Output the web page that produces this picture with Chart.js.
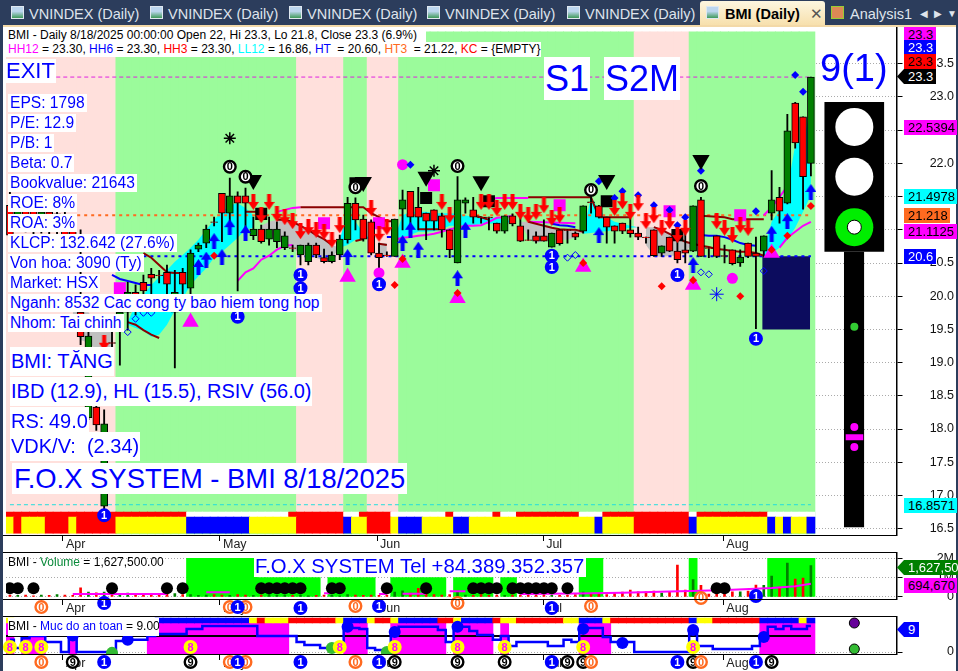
<!DOCTYPE html>
<html>
<head>
<meta charset="utf-8">
<style>
html,body{margin:0;padding:0;width:958px;height:671px;overflow:hidden;background:#2c3d5c;font-family:"Liberation Sans",Arial,sans-serif}
#pane{position:absolute;left:3px;top:25px;width:953px;height:646px;background:#fff;border-top:2px solid #f3d9a8;box-sizing:border-box}
canvas{position:absolute;left:0}
.tab{position:absolute;top:3px;height:21px;line-height:22px;font-size:14.5px;color:#dfe4ec;white-space:nowrap}
.ico{position:absolute;top:6px;width:13px;height:13px;background:linear-gradient(#bcd6ee 40%,#3f9a5a);border:1px solid #dfe8f0;box-sizing:border-box}
.box{position:absolute;background:#fff;color:#00f;white-space:nowrap;box-sizing:border-box}
.row{left:8px;height:18px;line-height:18px;font-size:15.6px;padding:0 2px}
.big{height:29px;line-height:29px;font-size:20px;left:10px;padding:0 1px}
.tag{position:absolute;height:15px;line-height:15px;font-size:13px;color:#000;text-align:left;padding-left:4px;box-sizing:border-box;white-space:nowrap}
.ptr{clip-path:polygon(0 50%,7px 0,100% 0,100% 100%,7px 100%);padding-left:11px}
.hl{position:absolute;left:3px;width:893px;height:1px;background:#000}
.ttl{position:absolute;font-size:12px;line-height:14px;color:#000;white-space:nowrap}
</style>
</head>
<body>
<div id="pane"></div>
<div id="tabs"></div>
<canvas id="priceChart" width="958" height="525" style="top:27px"></canvas>
<canvas id="volumeChart" width="958" height="64" style="top:552px"></canvas>
<canvas id="safetyChart" width="958" height="55" style="top:616px"></canvas>
<div id="overlay"></div>
<script src="https://cdn.jsdelivr.net/npm/chart.js@4/dist/chart.umd.min.js"></script>
<script>
// candles, k = bar number, 0 is the first bar on the left
var opens = [21.37,21.07,21.33,21.30,21.03,21.27,20.98,21.07,21.03,19.76,18.17,18.33,16.84,19.30,19.49,19.76,20.06,20.21,20.33,20.32,20.36,19.76,20.36,20.12,20.71,20.80,21.12,21.55,21.25,21.51,21.51,20.91,21.01,20.86,20.82,20.73,20.73,20.62,20.52,20.77,20.58,20.52,20.62,20.85,21.40,21.16,21.12,20.65,20.62,20.60,21.31,21.58,21.34,21.25,21.30,21.21,21.00,20.50,21.40,21.30,21.19,21.19,21.10,20.98,21.21,21.06,20.85,20.91,20.91,20.74,21.00,21.00,20.95,20.98,21.42,21.36,21.19,21.06,21.10,21.00,20.95,20.89,21.00,20.65,20.89,20.68,20.70,20.68,21.45,20.73,20.91,20.61,20.70,20.50,20.80,20.65,20.68,21.25,21.49,21.40,22.91,22.70,22.00];
var highs = [21.60,21.52,21.45,21.37,21.37,21.37,21.33,21.27,21.22,21.00,19.64,18.44,18.29,19.50,19.94,20.21,20.17,20.32,20.42,20.39,20.47,20.39,20.42,20.70,20.80,21.07,21.19,21.55,21.78,21.57,21.63,21.19,21.07,21.19,21.12,20.97,20.77,20.77,20.80,20.80,20.71,20.67,20.92,21.49,21.48,21.22,21.15,20.80,20.67,21.16,21.60,21.58,21.64,21.25,21.30,21.25,21.00,21.80,21.48,21.49,21.19,21.19,21.10,21.21,21.24,21.24,21.00,20.97,21.15,20.95,21.00,21.00,20.97,21.36,21.49,21.37,21.19,21.06,21.10,21.25,21.04,20.89,21.00,20.76,20.89,21.00,21.15,21.36,21.49,20.73,20.91,20.77,20.70,20.70,20.80,20.89,20.91,21.89,21.64,22.74,22.92,22.70,23.30];
var lows = [20.77,21.00,20.97,20.92,20.95,20.91,20.92,20.77,20.76,19.27,18.14,17.98,16.75,19.20,18.96,19.49,19.72,19.94,19.87,20.20,20.02,18.92,20.02,20.02,20.67,20.73,21.06,20.82,21.12,20.08,21.00,20.85,20.80,20.77,20.73,20.70,20.67,20.47,20.47,20.58,20.50,20.50,20.55,20.80,21.00,20.83,20.62,20.32,20.60,20.60,21.00,20.92,21.00,20.85,21.00,20.89,20.58,20.50,21.25,21.10,21.10,21.00,20.95,20.95,21.06,20.82,20.84,20.80,20.83,20.74,20.77,20.80,20.85,20.95,21.25,21.18,20.80,20.80,20.94,20.89,20.85,20.80,20.60,20.60,20.67,20.50,20.50,20.67,20.60,20.58,20.58,20.50,20.47,20.45,20.58,19.51,20.60,21.15,21.10,21.39,22.23,21.31,21.81];
var closes = [20.92,21.37,21.07,21.00,21.27,21.00,21.24,20.88,20.85,19.39,19.40,18.06,18.08,19.29,19.76,20.06,19.79,20.08,20.27,20.31,20.18,20.06,20.18,20.65,20.77,21.01,21.11,21.25,21.51,21.40,21.40,21.01,20.82,21.01,21.01,20.91,20.72,20.77,20.77,20.62,20.52,20.62,20.86,21.40,21.15,20.86,20.65,20.58,20.61,21.16,21.45,21.19,21.19,21.13,21.13,21.00,20.70,21.45,21.45,21.19,21.18,21.18,20.98,21.21,21.09,20.83,20.84,20.83,20.83,20.95,20.79,20.99,20.89,21.36,21.41,21.19,21.04,20.98,20.98,20.94,20.89,20.88,20.61,20.76,20.68,20.55,20.65,21.36,20.60,20.72,20.60,20.60,20.49,20.59,20.60,20.60,20.91,21.45,21.28,22.49,22.31,21.80,23.30];

var volumes = [0.1,0.08,0.1,0.06,0.1,0.08,0.12,0.1,0.08,0.47,0.25,0.22,0.25,0.12,0.1,0.2,0.15,0.1,0.15,0.08,0.15,0.18,0.12,0.12,0.08,0.1,0.12,0.1,0.08,0.12,0.1,0.08,0.1,0.12,0.08,0.1,0.08,0.1,0.06,0.08,0.1,0.08,0.06,0.12,0.1,0.08,0.1,0.08,0.1,0.25,0.32,0.2,0.45,0.15,0.12,0.1,0.12,0.3,0.1,0.08,0.12,0.08,0.1,0.08,0.1,0.1,0.08,0.1,0.12,0.1,0.08,0.1,0.12,0.25,0.18,0.15,0.12,0.2,0.25,0.36,0.27,0.27,0.31,0.2,0.25,1.66,0.36,0.9,0.6,0.15,0.15,0.18,0.27,0.27,0.3,0.62,0.6,1.09,0.52,1.76,0.93,0.98,1.63];
var safety = [4.2,1.4,4.8,5.5,5.5,3.5,3.5,0,5.5,0,0,0,0,0,3.8,3.8,4.2,4.2,5.5,6.2,6.2,6.2,6.2,8,8,9,9,9,9,9,9,9,5.5,5.5,5.5,5.5,5.5,3.5,2.4,2.4,1.4,1.4,1.4,8.3,8.3,8,1.4,0.7,0,6.6,8.7,8.7,8.7,8.7,8.7,7.6,3.5,8.7,8.7,7.3,5.9,5.9,4.2,5.5,2.1,3.5,3.5,3.5,3.5,2.1,2.1,4.2,3.5,8.3,8.3,8.3,5.2,3.5,3.5,3.5,0,0,0,0,0,0,0,7.6,2.1,2.1,1,1,1,1,1,2.1,5.2,8.7,8,9,8,8,9];

var monthTicks = [6.75,26.75,46.75,67.9,90.85];
var monthLabels = ['Apr','May','Jun','Jul','Aug'];
var priceTicks = [16.5,17,17.5,18,18.5,19,19.5,20,20.5,21,21.5,22,22.5,23,23.5];
var volumeTicks = [0,1,2];
var safetyTicks = [0];

// background colour by bar: start bar of each run and its colour
var zoneStarts = [0,14,37,43,46,50,80,87];
var zoneKinds = ['P','G','P','G','P','G','P','G'];
var stripStarts = [0,23,36,43,45,49,56,57,62,63,65,73,76,87,88,97];
var stripKinds = ['R','W','R','W','R','W','R','W','R','W','R','W','R','W','R','W'];
var bandStarts = [0,1,2,5,8,9,14,23,31,37,43,44,46,49,50,53,57,59,75,76,80,87,88,97,98,99,100,102];
var bandKinds = ['Y','R','Y','R','Y','R','Y','B','Y','R','B','Y','R','Y','B','Y','B','Y','B','Y','R','B','Y','B','Y','B','Y','B'];
var safetyStripStarts = [0,1,19,31,32,33,36,42,43,46,47,49,50,55,57,58,62,63,65,71,73,76,77,87,88,90,96,101,102];
var safetyStripKinds = ['Y','W','B','Y','R','Y','R','Y','B','Y','R','Y','B','R','Y','B','R','Y','R','Y','B','Y','R','B','Y','R','B','Y','B'];

// overlay lines, null breaks the line
var brownAK = [30,31,32,33,37,45,46,47,48,49,50,59,60,61,62,66,74,75,79,80,88,91,92,96];
var brownAV = [21.27,21.27,21.27,null,21.34,21.34,21.25,21.19,21.13,21.13,null,21.22,21.19,21.15,null,21.49,21.49,21.19,21.19,null,21.21,21.19,21.16,21.16];
var brownBK = [15,16,17,18,19,20,17,18,19,20,21,22,23,34,35,36,37,38,39,40,41,42,44,45,46,47,48,49,52,55,56,66,67,68,69,70,71,72,73,74,82,83,84,85,86,87,88,89,90,91,92,93,94,95,96];
var brownBV = [19.61,19.57,19.49,19.42,19.37,null,20.65,20.58,20.47,20.36,20.35,20.35,null,21.15,21.15,21.12,21.06,21.00,20.92,20.86,20.77,null,20.83,20.86,null,20.79,20.77,null,21.01,21.01,null,21.12,21.09,21.06,21.03,21.01,21.00,21.00,20.97,null,21.04,21.00,20.94,20.88,20.82,20.79,20.76,20.74,20.71,20.70,20.68,20.67,20.67,20.65,20.61];
var magentaLowK = [29,30,31,32,33,34,35,36,37,49,50,51,52,53,54,55,56,57,58,59,60,61,62,63,64,65,66,72,73,98,99,100,101,102];
var magentaLowV = [20.23,20.36,20.42,20.55,20.61,20.70,20.76,20.77,null,20.85,20.88,20.89,20.91,20.92,20.94,20.97,21.01,21.03,21.06,21.06,21.07,21.12,21.18,21.19,21.21,null,21.12,21.10,null,20.73,20.88,20.97,21.06,21.12];
var magentaHighK = [34,35,36,37,38,61,62,66,67,96,97,98,99];
var magentaHighV = [21.27,21.30,21.33,21.34,null,21.45,21.48,21.48,null,21.22,21.34,21.49,21.66];
var blueK = [13,14,15,16,17,18,19,48,49,50,69,70,71,72,73,88,89,90,91,92,93,94,95];
var blueV = [20.32,20.26,20.23,20.20,20.17,20.17,null,20.89,20.89,null,21.09,21.07,21.06,21.04,null,20.92,20.91,20.91,20.89,20.85,20.80,20.77,20.76];

// clouds: top and bottom edge
var cyanK = [15,16,17,18,19,20,21,22,23,24,25,26,27,28,29,30,31,32,42,43,44,45,46,47,49,50,51,52,53,54,55,56,57,58,59,60,61,62,63,64,65,73,74,75,76,77,78,79,80,81,96,97,98,99,100,101,102];
var cyanTop = [19.61,19.87,20.02,20.17,20.29,20.39,20.52,20.62,20.73,20.85,21.00,21.15,21.27,21.37,21.40,21.33,21.22,null,20.85,21.27,21.12,20.95,20.85,null,20.88,21.22,21.27,21.27,21.27,21.25,21.25,21.25,21.24,21.22,21.19,21.19,21.18,21.18,21.15,21.13,null,20.95,21.49,21.30,21.19,21.12,21.09,21.06,21.04,null,20.70,21.12,21.30,21.60,22.28,22.35,22.80];
var cyanBottom = [19.57,19.52,19.48,19.39,19.42,19.57,19.79,19.97,20.17,20.30,20.42,20.58,20.67,20.77,20.88,21.00,21.03,null,20.73,20.77,20.85,20.88,20.85,null,20.85,20.88,20.92,20.97,20.97,20.98,21.01,21.06,21.06,21.07,21.07,21.09,21.09,21.10,21.10,21.12,null,20.94,20.95,20.97,20.98,21.00,21.01,21.03,21.04,null,20.61,20.64,20.73,20.85,21.03,21.27,21.52];
var grayK = [8,9,10,11,12,13,14,32,33,34,35,36,37,38,39,40,41,42,43,47,48,49,65,66,67,68,69,70,71,72,73,74,81,82,83,84,85,86,87];
var grayTop = [19.8,19.76,19.76,19.6,19.6,19.5,null,21.06,21.12,21.15,21.15,21.12,21.06,21.00,20.92,20.86,20.77,20.73,null,20.80,20.80,null,21.12,21.12,21.09,21.06,21.03,21.01,21.00,21.00,20.97,null,21.04,21.04,21.00,20.94,20.88,20.82,20.79];
var grayBottom = [19.6,19.34,19.30,19.20,19.15,19.2,null,21.03,20.97,20.85,20.76,20.70,20.67,20.61,20.58,20.53,20.58,20.73,null,20.62,20.61,null,21.12,20.88,20.80,20.83,20.85,20.85,20.85,20.88,20.97,null,20.77,20.61,20.59,20.61,20.61,20.67,20.79];

// signal marks on the price pane
var downArrowK = [12,31,33,32,34,35,36,37,38,39,40,41,42,46,47,48,55,56,60,61,62,63,64,65,66,67,68,69,70,77,78,79,80,81,82,83,84,85,86,90,91,92,93,94];
var downArrowV = [19.30,21.42,21.42,21.22,21.24,21.19,21.13,20.98,21.04,21.00,20.97,20.85,21.07,21.33,20.94,21.04,21.42,21.22,21.42,21.42,21.33,21.42,21.42,21.27,21.22,21.27,21.37,21.18,21.22,21.33,21.43,21.27,21.40,21.13,21.22,21.03,21.13,20.92,21.03,21.13,21.03,20.92,21.07,21.03];
var upArrowK = [24,25,26,27,28,30,43,50,51,52,57,58,75,87,97,99,102];
var upArrowV = [20.44,20.55,20.83,20.59,21.04,20.95,20.59,20.80,21.00,20.70,20.27,21.00,20.92,20.47,20.94,21.13,21.57];
var blackSquareK = [32,44,53,61,76,85];
var blackSquareV = [21.24,21.70,21.48,21.43,21.43,20.92];
var pinkSquareK = [14,40,47,54,70,84,93];
var pinkSquareV = [20.12,21.10,21.10,21.67,21.37,21.28,21.22];
var pinkCircleK = [50,47,85,92];
var pinkCircleV = [21.98,20.35,20.32,20.27];
var pinkTriangleK = [23,43,50,57,73,87,97];
var pinkTriangleV = [19.61,20.29,20.50,19.97,20.44,20.17,20.65];
var redDotK = [26,50,49,57,73,83,87,93,97,99,102];
var redDotV = [20.61,20.56,20.17,20.05,20.50,20.15,20.24,20.00,20.70,20.91,21.36];
var blueDotK = [51,75,77,78,80,82,84,86,85,88,95,100,101];
var blueDotV = [21.98,21.73,21.48,21.58,21.52,21.37,21.30,21.19,21.07,21.89,21.28,23.33,23.08];
var blackTriangleK = [31,45,53,60,76,88];
var blackTriangleV = [21.75,21.72,21.80,21.73,21.75,22.05];
var starK = [28,54];
var starV = [22.38,21.89];
var hollowK = [15,16,17,18,71,72,88,89,96];
var hollowV = [19.46,19.66,19.75,19.75,20.58,20.62,20.36,20.33,20.38];
var snowK = [90];
var snowV = [20.03];
var zeroK = [28,30,44,57,74,88];
var zeroV = [21.95,21.80,21.64,21.96,21.60,21.66];
var oneK = [37,37,47,29,12,69,69,85,95];
var oneV = [20.32,20.12,20.18,19.69,16.70,20.61,20.44,20.32,19.36];

// traffic light drawn in the empty bars on the right
var lightK = [107.53,107.53,107.53];
var lightV = [22.55,21.80,21.04];
var poleDotV = [19.54,18.03,17.73];

// volume pane
var tallBlockK = [23,24,25,26,27,28,29,30,31,73,74,75,87,97,98,99,100,101,102];
var lowBlockK = [32,33,34,35,36,37,38,39,41,42,43,44,45,46,49,50,51,52,53,54,55,57,58,59,60,61,63,64];
var volMaK = [8,20,21,25,28,29,40,41,42,47,48,49,50,53,54,56,58,59,65,72,78,84,88,92,97,100,102];
var volMaV = [0.15,0.15,null,0.24,0.24,null,0.2,0.2,null,0.15,0.15,null,0.17,0.17,null,0.3,0.3,null,0.16,0.18,0.22,0.28,0.33,0.38,0.47,0.56,0.69];
var volDotK = [0,1,3,13,20,22,32,33,34,35,36,37,41,42,48,53,59,60,61,62,64,65,66,67,68,69,71,90,91];
var volOrangeK = [4,28,30,44,57,74,88];
var volOrangeV = [-0.52,-0.52,-0.52,-0.47,-0.31,-0.47,-0.05];
var volBlueK = [12,29,37,47,69,95];
var volBlueV = [-0.31,-0.52,-0.57,-0.47,-0.57,0.05];

// safety pane
var safetyBlockK = [0,2,3,4,8,18,19,20,21,22,23,24,25,26,27,28,29,30,31,32,33,34,35,43,44,45,49,50,51,52,53,54,55,57,58,59,60,61,63,73,74,75,76,96,97,98,99,100,101,102];
var safetyEightK = [0,2,4,23,42,49,57,63,73,87];
var safetyBlueK = [8,15,43,49,57,73,78,87,96];
var safetyBlueV = [5.7,4.2,8.7,6.9,8.7,8,3.1,7.6,5.2];
var safetyGreenK = [13,41,48];
var safetyGreenV = [-0.3,1.4,0];
var nineK = [8,23,49,57,63,71,73,87,97];
var orangeK = [4,28,30,44,74,88];
var blueRowK = [12,29,37,47,69,85,95];

var tabNames = ['VNINDEX (Daily)','VNINDEX (Daily)','VNINDEX (Daily)','VNINDEX (Daily)','VNINDEX (Daily)'];
var tabLefts = [29,168,307,445,585];
var infoRows = ['EPS: 1798','P/E: 12.9','P/B: 1','Beta: 0.7','Bookvalue: 21643','ROE: 8%','ROA: 3%','KLCP: 132.642 (27.6%)','Von hoa: 3090 (Ty)','Market: HSX','Nganh: 8532 Cac cong ty bao hiem tong hop','Nhom: Tai chinh'];

var PRICE_BOTTOM = 16.42, PRICE_TOP = 23.98;
var zoneColors = {P:'#ffe0dc',G:'#9bfb9b'};
var cellColors = {R:'#ff0000',W:'#ffffff',Y:'#ffff00',B:'#0000ff'};
var LAST_BAR = 102;

function pts(ks, vs) {
    return ks.map(function(k, i) { return {x: k, y: vs[i]}; });
}

function runColors(starts, kinds, table) {
    var out = [];
    for (var i = 0; i < starts.length; i++) {
        var end = i + 1 < starts.length ? starts[i + 1] : LAST_BAR + 1;
        for (var k = starts[i]; k < end; k++) out.push(table[kinds[i]]);
    }
    return out;
}

function rangeBars(colors, from, to, thickness) {
    return {
        type: 'bar',
        data: colors.map(function(c, k) { return {x: k, y: [from, to]}; }),
        backgroundColor: colors,
        borderWidth: 0,
        barThickness: thickness || 8.1
    };
}

function line(ks, vs, color, width, dash) {
    return {
        type: 'line',
        data: pts(ks, vs),
        borderColor: color,
        borderWidth: width,
        borderDash: dash || [],
        pointRadius: 0,
        tension: 0
    };
}

function box(k0, k1, top, bottom, color) {
    return {
        type: 'line',
        data: pts([k0, k1], [top, top]),
        borderWidth: 0,
        pointRadius: 0,
        fill: {value: bottom},
        backgroundColor: color
    };
}

function cloud(ks, tops, bottoms, color) {
    var upper = line(ks, tops, color, 0);
    upper.fill = '+1';
    upper.backgroundColor = color;
    return [upper, line(ks, bottoms, color, 0)];
}

function marks(ks, vs, style, color, radius, extra) {
    var d = {
        type: 'line',
        showLine: false,
        data: pts(ks, vs),
        pointStyle: style,
        pointRadius: radius,
        pointBackgroundColor: color,
        pointBorderColor: color,
        pointBorderWidth: 0
    };
    for (var key in (extra || {})) d[key] = extra[key];
    return d;
}

function arrow(color, up) {
    var c = document.createElement('canvas');
    c.width = 11;
    c.height = 16;
    var g = c.getContext('2d');
    g.fillStyle = color;
    if (!up) { g.translate(0, 16); g.scale(1, -1); }
    g.beginPath();
    g.moveTo(5.5, 0);
    g.lineTo(11, 8);
    g.lineTo(7.5, 8);
    g.lineTo(7.5, 16);
    g.lineTo(3.5, 16);
    g.lineTo(3.5, 8);
    g.lineTo(0, 8);
    g.closePath();
    g.fill();
    return c;
}

// circled digits, also used under the panes where the label row is
function digitPlugin(groups) {
    return {
        id: 'digitMarks',
        afterDraw: function(chart) {
            var g = chart.ctx;
            g.save();
            groups.forEach(function(s) {
                s.k.forEach(function(k, i) {
                    var x = chart.scales.x.getPixelForValue(k);
                    var y = chart.scales.y.getPixelForValue(s.v[i]);
                    g.beginPath();
                    g.arc(x, y, 5.8, 0, Math.PI * 2);
                    g.fillStyle = s.fill;
                    g.fill();
                    g.lineWidth = 2.4;
                    g.strokeStyle = s.ring;
                    g.stroke();
                    g.fillStyle = s.color;
                    g.font = 'bold 11px "Liberation Sans"';
                    g.textAlign = 'center';
                    g.textBaseline = 'middle';
                    g.fillText(s.digit, x, y + 0.5);
                });
            });
            g.restore();
        }
    };
}

function same(ks, v) {
    return ks.map(function() { return v; });
}

function noPadding(s) {
    s.paddingLeft = 0;
    s.paddingRight = 0;
    s.paddingTop = 0;
    s.paddingBottom = 0;
}

function xAxis() {
    return {
        type: 'linear',
        offset: false,
        min: -0.5,
        max: 112.9,
        afterBuildTicks: function(s) {
            s.ticks = monthTicks.map(function(v) { return {value: v}; });
        },
        afterFit: function(s) {
            s.height = 17;
            noPadding(s);
        },
        grid: {offset: false, drawOnChartArea: false, tickLength: 6, tickColor: '#000'},
        border: {color: '#000', width: 1},
        ticks: {
            autoSkip: false,
            maxRotation: 0,
            minRotation: 0,
            align: 'start',
            padding: -4,
            labelOffset: 3,
            color: '#222',
            font: {family: 'Liberation Sans', size: 12.5},
            callback: function(v, i) { return monthLabels[i]; }
        }
    };
}

function yAxis(min, max, values, fmt) {
    return {
        position: 'right',
        min: min,
        max: max,
        afterBuildTicks: function(s) {
            s.ticks = values.map(function(v) { return {value: v}; });
        },
        afterFit: function(s) {
            s.width = 57.5;
            noPadding(s);
        },
        grid: {color: '#aaaaaa', tickColor: '#000', tickLength: 6, tickBorderDash: []},
        border: {color: '#000', width: 1.5, dash: [1, 2]},
        ticks: {
            autoSkip: false,
            crossAlign: 'far',
            padding: 0,
            color: '#111',
            font: {family: 'Liberation Sans', size: 12.5},
            callback: fmt
        }
    };
}

function makeChart(id, datasets, yScale, groups) {
    datasets.forEach(function(d, i) { d.order = 1000 - i; });
    return new Chart(document.getElementById(id), {
        type: 'bar',
        data: {datasets: datasets},
        options: {
            responsive: false,
            animation: false,
            devicePixelRatio: 1,
            layout: {autoPadding: false, padding: {left: 6, right: 4, top: 1, bottom: 0}},
            datasets: {bar: {grouped: false}},
            plugins: {legend: {display: false}, tooltip: {enabled: false}},
            events: [],
            scales: {x: xAxis(), y: yScale}
        },
        plugins: [digitPlugin(groups)]
    });
}

function initPriceChart() {
    var allK = opens.map(function(o, k) { return k; });
    var bodyColors = opens.map(function(o, k) { return closes[k] >= o ? '#008000' : '#ff0000'; });
    var zones = runColors(zoneStarts, zoneKinds, zoneColors);
    var sets = [];
    sets.push(rangeBars(zones, PRICE_BOTTOM, PRICE_TOP));
    sets = sets.concat(cloud(cyanK, cyanTop, cyanBottom, '#00ffff'));
    sets = sets.concat(cloud(grayK, grayTop, grayBottom, '#c0c0c0'));
    sets.push(box(95.8, 101.9, 20.6, 19.5, '#0c0c5e'));
    sets.push(line([5.9, 102], [23.3, 23.3], '#e020e0', 1, [4, 3]));
    sets.push(line([0, 102], [16.86, 16.86], '#22dddd', 1, [4, 3]));
    sets.push(line([5, 102], [21.22, 21.22], '#ff6a20', 2, [3, 4]));
    sets.push(line([17, 102], [20.6, 20.6], '#0000ff', 2, [3, 4]));
    sets.push(line(magentaLowK, magentaLowV, '#ff00ff', 2));
    sets.push(line(magentaHighK, magentaHighV, '#ff00ff', 2));
    sets.push(line(blueK, blueV, '#0000ff', 2));
    sets.push(line(brownAK, brownAV, '#8b0000', 2));
    sets.push(line(brownBK, brownBV, '#8b0000', 2));
    sets.push({
        type: 'bar',
        data: allK.map(function(k) { return {x: k, y: [lows[k], highs[k]]}; }),
        backgroundColor: '#000',
        barThickness: 1.2,
        borderWidth: 0
    });
    sets.push(rangeBars(runColors(stripStarts, stripKinds, cellColors), 16.675, 16.75));
    sets.push(rangeBars(runColors(bandStarts, bandKinds, cellColors), 16.43, 16.675));
    sets.push(marks(blackSquareK, blackSquareV, 'rect', '#000', 8.5));
    sets.push(marks(pinkSquareK, pinkSquareV, 'rect', '#ff00ff', 8.5));
    sets.push({
        type: 'bar',
        data: allK.map(function(k) { return {x: k, y: [opens[k], closes[k]]}; }),
        backgroundColor: bodyColors,
        borderColor: '#000',
        borderWidth: 1,
        borderSkipped: false,
        barThickness: 7
    });
    sets.push(marks(pinkCircleK, pinkCircleV, 'circle', '#ff00ff', 5.5));
    sets.push(marks(pinkTriangleK, pinkTriangleV, 'triangle', '#ff00ff', 9.5));
    sets.push(marks(redDotK, redDotV, 'rectRot', '#ff0000', 4));
    sets.push(marks(blueDotK, blueDotV, 'rectRot', '#0000ff', 4));
    sets.push(marks(blackTriangleK, blackTriangleV, 'triangle', '#000', 10, {pointRotation: 180}));
    sets.push(marks(starK, starV, 'star', '#000', 6, {pointBorderWidth: 1.5}));
    sets.push(marks(hollowK, hollowV, 'rectRot', 'transparent', 3.5, {pointBorderColor: '#0000ff', pointBorderWidth: 1}));
    sets.push(marks(snowK, snowV, 'star', '#0000ff', 7, {pointBorderWidth: 1}));
    sets.push(marks(downArrowK, downArrowV, arrow('#ff0000', false), '#ff0000', 5));
    sets.push(marks(upArrowK, upArrowV, arrow('#0000ff', true), '#0000ff', 5));
    // traffic light
    sets.push(box(103.7, 111.35, 22.925, 20.67, '#000'));
    sets.push(box(106.2, 108.8, 20.67, 16.52, '#000'));
    sets.push(box(106.4, 108.7, 17.92, 17.83, '#ff00ff'));
    sets.push(marks(lightK, lightV, 'circle', ['#ffffff', '#ffffff', '#00ee00'], 19));
    sets.push(marks([107.53], [21.04], 'circle', '#ffffff', 7, {pointBorderColor: '#000', pointBorderWidth: 1}));
    sets.push(marks([107.53, 107.53, 107.53], poleDotV, 'circle', ['#33cc33', '#ff00ff', '#ff00ff'], 4));

    makeChart('priceChart', sets, yAxis(16.404, 24.039, priceTicks, function(v) { return v.toFixed(1); }), [
        {k: zeroK, v: zeroV, digit: '0', fill: '#fff', ring: '#000', color: '#000'},
        {k: oneK, v: oneV, digit: '1', fill: '#0000ff', ring: '#0000ff', color: '#fff'}
    ]);
}

function initVolumeChart() {
    var allK = volumes.map(function(o, k) { return k; });
    var sets = [];
    sets.push({type: 'bar', data: pts(tallBlockK, same(tallBlockK, 2)), backgroundColor: '#00ff00', barThickness: 8.1, borderWidth: 0});
    sets.push({type: 'bar', data: pts(lowBlockK, same(lowBlockK, 1)), backgroundColor: '#00ff00', barThickness: 8.1, borderWidth: 0});
    sets.push({
        type: 'bar',
        data: pts(allK, volumes),
        backgroundColor: allK.map(function(k) { return closes[k] >= opens[k] ? '#008000' : '#ff0000'; }),
        barThickness: 2,
        borderWidth: 0
    });
    sets.push(line(volMaK, volMaV, '#ff00ff', 2));
    sets.push(marks(volDotK, same(volDotK, 0.45), 'circle', '#000', 6));
    makeChart('volumeChart', sets, yAxis(-0.104, 2.28, volumeTicks, function(v) { return v === 0 ? '0' : v + 'M'; }), [
        {k: volOrangeK, v: volOrangeV, digit: '0', fill: '#fff', ring: '#ff6a20', color: '#ff6a20'},
        {k: volBlueK, v: volBlueV, digit: '1', fill: '#0000ff', ring: '#0000ff', color: '#fff'}
    ]);
}

function initSafetyChart() {
    var sets = [];
    sets.push({type: 'bar', data: pts(safetyBlockK, safetyBlockK.map(function() { return [-0.7, 10.03]; })), backgroundColor: '#ff00ff', barThickness: 8.1, borderWidth: 0});
    sets.push(rangeBars(runColors(safetyStripStarts, safetyStripKinds, cellColors), 10.03, 11.76));
    sets.push(line([-0.5, 102], [5.5, 5.5], '#000', 2));
    sets.push(Object.assign(line(safety.map(function(v, k) { return k; }), safety, '#0000ff', 2.5), {stepped: 'middle'}));
    sets.push(marks(safetyBlueK, safetyBlueV, 'circle', '#0000ff', 6));
    sets.push(marks(safetyGreenK, safetyGreenV, 'circle', '#33bb33', 6));
    sets.push(marks([107.53], [10.03], 'circle', '#660099', 5, {pointBorderColor: '#000', pointBorderWidth: 1}));
    sets.push(marks([107.53], [1.04], 'circle', '#33bb33', 5, {pointBorderColor: '#000', pointBorderWidth: 1}));
    makeChart('safetyChart', sets, yAxis(-0.69, 12.11, safetyTicks, function() { return '0'; }), [
        {k: safetyEightK, v: same(safetyEightK, 1.73), digit: '8', fill: '#ffff00', ring: '#ffff00', color: '#ff00ff'},
        {k: nineK, v: same(nineK, -3.46), digit: '9', fill: '#fff', ring: '#000', color: '#000'},
        {k: orangeK, v: same(orangeK, -3.46), digit: '0', fill: '#fff', ring: '#ff6a20', color: '#ff6a20'},
        {k: blueRowK, v: same(blueRowK, -3.46), digit: '1', fill: '#0000ff', ring: '#0000ff', color: '#fff'}
    ]);
}

function el(parent, cls, style, html) {
    var d = document.createElement('div');
    d.className = cls;
    d.style.cssText = style;
    d.innerHTML = html || '';
    document.getElementById(parent).appendChild(d);
    return d;
}

function buildTabs() {
    tabNames.forEach(function(t, i) {
        el('tabs', 'ico', 'left:' + (tabLefts[i] - 18) + 'px');
        el('tabs', 'tab', 'left:' + tabLefts[i] + 'px', t);
    });
    el('tabs', 'tab', 'left:700px;top:1px;width:125px;height:24px;background:linear-gradient(#fdf6e0,#f7e0ad);border-radius:3px 3px 0 0');
    el('tabs', 'ico', 'left:706px');
    el('tabs', 'tab', 'left:725px;color:#000;font-weight:bold;font-size:14.5px', 'BMI (Daily)');
    el('tabs', 'tab', 'left:810px;color:#555;font-size:15px', '✕');
    el('tabs', 'ico', 'left:831px;background:#d85;border-color:#9c3');
    el('tabs', 'tab', 'left:850px', 'Analysis1');
    el('tabs', 'tab', 'left:920px;font-size:10px', '◀');
    el('tabs', 'tab', 'left:934px;font-size:10px', '▶');
    el('tabs', 'tab', 'left:947px;font-size:10px', '▼');
}

function buildOverlay() {
    [535, 552, 599, 616, 654].forEach(function(y) { el('overlay', 'hl', 'top:' + y + 'px'); });
    el('overlay', 'box', 'left:5px;top:28px;width:421px;height:14px;color:#000;font-size:12px;line-height:14px;padding-left:3px', 'BMI - Daily 8/18/2025 00:00:00 Open 22, Hi 23.3, Lo 21.8, Close 23.3 (6.9%)');
    el('overlay', 'box', 'left:5px;top:42px;width:536px;height:15px;color:#000;font-size:12px;line-height:14px;padding-left:3px',
        '<span style="color:#f0f">HH12</span> = 23.30, <span style="color:#00f">HH6</span> = 23.30, <span style="color:#f00">HH3</span> = 23.30, <span style="color:#0ff">LL12</span> = 16.86, <span style="color:#00f">HT</span> &nbsp;= 20.60, <span style="color:#ff6a20">HT3</span> &nbsp;= 21.22, <span style="color:#f00">KC</span> = {EMPTY}');
    el('overlay', 'box', 'left:5px;top:59px;height:24px;line-height:24px;font-size:22px;padding:0 1px', 'EXIT');
    infoRows.forEach(function(t, i) {
        el('overlay', 'box row', 'top:' + (94 + i * 20) + 'px', t);
    });
    el('overlay', 'box big', 'top:347px', 'BMI: TĂNG');
    el('overlay', 'box big', 'top:377px', 'IBD (12.9), HL (15.5), RSIV (56.0)');
    el('overlay', 'box big', 'top:407px;word-spacing:-1px', 'RS: 49.0');
    el('overlay', 'box big', 'top:432px', 'VDK/V: &nbsp;(2.34)');
    el('overlay', 'box', 'left:12px;top:463px;height:31px;line-height:31px;font-size:27.4px;padding:0 2px', 'F.O.X SYSTEM - BMI 8/18/2025');
    el('overlay', 'box', 'left:544px;top:57px;height:43px;line-height:43px;font-size:36px;padding:0 1px', 'S1');
    el('overlay', 'box', 'left:604px;top:57px;height:43px;line-height:43px;font-size:36px;padding:0 1px', 'S2M');
    el('overlay', 'box', 'left:820px;top:46px;height:44px;line-height:44px;font-size:38px;background:transparent', '9(1)');
    el('overlay', 'ttl', 'left:8px;top:555px', 'BMI - <span style="color:#0a8a3a">Volume</span> = 1,627,500.00');
    el('overlay', 'box', 'left:254px;top:556px;width:332px;height:21px;line-height:21px;font-size:20.3px;padding-left:1px', 'F.O.X SYSTEM Tel +84.389.352.357');
    el('overlay', 'box', 'left:8px;top:618px;width:151px;height:18px;color:#000;font-size:12px;line-height:17px', 'BMI - <span style="color:#00f">Muc do an toan</span> = 9.00');

    var tags = [
        ['23.3', 27, 32, '#ff00ff', '#000'], ['23.3', 40, 32, '#0000ff', '#fff'], ['23.3', 54, 32, '#ff0000', '#000'],
        ['22.5394', 120, 53, '#ff00ff', '#000'], ['21.4978', 189, 53, '#00ffff', '#000'], ['21.218', 208, 46, '#ff6a20', '#000'],
        ['21.1125', 224, 53, '#ff00ff', '#000'], ['20.6', 249, 32, '#0000ff', '#fff'], ['16.8571', 498, 53, '#00ffff', '#000'],
        ['694,670', 578, 53, '#ff00ff', '#000']
    ];
    tags.forEach(function(t) {
        el('overlay', 'tag', 'left:904px;top:' + t[1] + 'px;width:' + t[2] + 'px;background:' + t[3] + ';color:' + t[4], t[0]);
    });
    el('overlay', 'tag ptr', 'left:897px;top:69px;width:39px;background:#000;color:#fff', '23.3');
    el('overlay', 'tag ptr', 'left:897px;top:560px;width:61px;background:#008000;color:#fff;overflow:hidden', '1,627,500');
    el('overlay', 'tag ptr', 'left:897px;top:622px;width:22px;background:#0000ff;color:#fff', '9');
}

document.addEventListener('DOMContentLoaded', function() {
    buildTabs();
    initPriceChart();
    initVolumeChart();
    initSafetyChart();
    buildOverlay();
});
</script>
</body>
</html>
